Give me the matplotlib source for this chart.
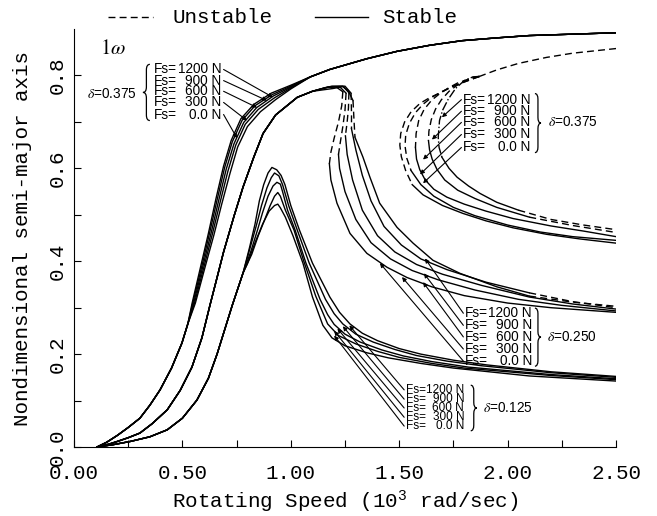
import matplotlib.pyplot as plt
from matplotlib.path import Path
from matplotlib.patches import PathPatch
from matplotlib.lines import Line2D

plt.rcParams['mathtext.fontset'] = 'custom'
plt.rcParams['mathtext.rm'] = 'Liberation Mono'
plt.rcParams['mathtext.it'] = 'Liberation Mono:italic'

MONO = 'Liberation Mono'
SANS = 'Liberation Sans'

# force labels, top to bottom
fs_labels = ['1200 N', '900 N', '600 N', '300 N', '0.0 N']

# ---------------- delta = 0.375 ----------------
start375_x = [0.106, 0.15, 0.20, 0.25, 0.304, 0.35, 0.397, 0.45, 0.498, 0.525]
start375_y = [0.0, 0.01, 0.025, 0.042, 0.062, 0.09, 0.123, 0.17, 0.224, 0.265]
mid375_x = [
    [0.545, 0.585, 0.62, 0.655, 0.69, 0.725, 0.77, 0.83, 0.91, 1.0],
    [0.548, 0.59, 0.625, 0.66, 0.695, 0.73, 0.775, 0.835, 0.915, 1.0],
    [0.552, 0.595, 0.632, 0.667, 0.702, 0.738, 0.783, 0.843, 0.92, 1.0],
    [0.556, 0.6, 0.638, 0.674, 0.71, 0.746, 0.79, 0.85, 0.925, 1.0],
    [0.56, 0.605, 0.645, 0.682, 0.72, 0.755, 0.8, 0.86, 0.93, 1.0]]
mid375_y = [
    [0.31, 0.39, 0.46, 0.535, 0.605, 0.66, 0.707, 0.738, 0.762, 0.779],
    [0.31, 0.39, 0.46, 0.532, 0.602, 0.657, 0.703, 0.735, 0.759, 0.777],
    [0.31, 0.39, 0.46, 0.53, 0.598, 0.653, 0.699, 0.731, 0.756, 0.775],
    [0.31, 0.389, 0.458, 0.527, 0.594, 0.65, 0.695, 0.727, 0.752, 0.773],
    [0.31, 0.388, 0.456, 0.524, 0.59, 0.646, 0.69, 0.722, 0.748, 0.771]]
top375_x = [1.09, 1.18, 1.35, 1.49, 1.64, 1.79, 1.95, 2.10, 2.3, 2.5]
top375_y = [0.797, 0.813, 0.836, 0.852, 0.865, 0.875, 0.881, 0.886, 0.889, 0.892]

# unstable branch shared at the right, then each loop round its nose
unst375_x = [2.5, 2.3, 2.18, 2.05, 1.95, 1.87]
unst375_y = [0.858, 0.848, 0.839, 0.826, 0.812, 0.798]
nose375_x = [
    [1.87, 1.84, 1.80, 1.76, 1.725, 1.70, 1.686, 1.68, 1.684, 1.697],
    [1.87, 1.84, 1.81, 1.77, 1.73, 1.695, 1.668, 1.648, 1.637, 1.635],
    [1.87, 1.82, 1.77, 1.73, 1.69, 1.65, 1.615, 1.59, 1.578, 1.575],
    [1.87, 1.80, 1.75, 1.70, 1.65, 1.61, 1.575, 1.547, 1.53, 1.527, 1.535, 1.555],
    [1.87, 1.80, 1.74, 1.69, 1.64, 1.596, 1.555, 1.525, 1.507, 1.503, 1.51, 1.53, 1.56]]
nose375_y = [
    [0.798, 0.797, 0.789, 0.772, 0.748, 0.725, 0.703, 0.667, 0.645, 0.624],
    [0.798, 0.796, 0.79, 0.78, 0.766, 0.748, 0.728, 0.705, 0.68, 0.66],
    [0.798, 0.792, 0.784, 0.774, 0.762, 0.747, 0.727, 0.703, 0.675, 0.645],
    [0.798, 0.786, 0.777, 0.766, 0.753, 0.738, 0.72, 0.697, 0.672, 0.648, 0.622, 0.595],
    [0.798, 0.786, 0.775, 0.763, 0.752, 0.74, 0.722, 0.70, 0.675, 0.65, 0.625, 0.595, 0.565]]
low375_x = [
    [1.697, 1.73, 1.767, 1.82, 1.873, 1.95, 2.05],
    [1.635, 1.64, 1.652, 1.674, 1.71, 1.77, 1.85, 1.95, 2.10],
    [1.575, 1.58, 1.595, 1.62, 1.66, 1.72, 1.8, 1.9, 2.025, 2.2, 2.35, 2.5],
    [1.555, 1.6, 1.66, 1.75, 1.85, 2.0, 2.15, 2.3, 2.5],
    [1.56, 1.61, 1.70, 1.794, 1.9, 2.025, 2.18, 2.334, 2.5]]
low375_y = [
    [0.624, 0.60, 0.581, 0.562, 0.546, 0.527, 0.51],
    [0.66, 0.64, 0.62, 0.598, 0.575, 0.553, 0.535, 0.516, 0.495],
    [0.645, 0.62, 0.597, 0.575, 0.555, 0.538, 0.523, 0.508, 0.492, 0.476, 0.465, 0.453],
    [0.595, 0.565, 0.54, 0.516, 0.498, 0.478, 0.463, 0.453, 0.445],
    [0.565, 0.543, 0.52, 0.503, 0.487, 0.472, 0.458, 0.448, 0.439]]
end375_x = [[2.05, 2.2, 2.35, 2.5], [2.10, 2.3, 2.5], [], [], []]
end375_y = [[0.51, 0.49, 0.478, 0.468], [0.495, 0.477, 0.462], [], [], []]

# ---------------- delta = 0.250 ----------------
start25_x = [0.106, 0.16, 0.20, 0.25, 0.304, 0.36, 0.43, 0.49, 0.544, 0.59,
             0.627, 0.66, 0.69, 0.74, 0.78, 0.83, 0.872, 0.93, 1.03, 1.10]
start25_y = [0.0, 0.006, 0.012, 0.02, 0.03, 0.05, 0.08, 0.122, 0.172, 0.235,
             0.305, 0.365, 0.42, 0.50, 0.56, 0.625, 0.675, 0.715, 0.753, 0.766]
up25_x = [[1.10, 1.195, 1.24, 1.264, 1.287],
          [1.10, 1.19, 1.25, 1.278],
          [1.10, 1.18, 1.24, 1.268],
          [1.10, 1.17, 1.225, 1.255],
          [1.10, 1.16, 1.21, 1.24]]
up25_y = [[0.766, 0.772, 0.776, 0.768, 0.746],
          [0.766, 0.777, 0.777, 0.762],
          [0.766, 0.776, 0.777, 0.763],
          [0.766, 0.775, 0.776, 0.762],
          [0.766, 0.774, 0.775, 0.765]]
fold25_x = [[1.287, 1.292, 1.296],
            [1.278, 1.28, 1.28],
            [1.268, 1.266, 1.26, 1.252],
            [1.255, 1.25, 1.24, 1.228, 1.22],
            [1.24, 1.235, 1.22, 1.20, 1.185, 1.178]]
fold25_y = [[0.746, 0.70, 0.667],
            [0.762, 0.72, 0.685],
            [0.763, 0.73, 0.70, 0.67],
            [0.762, 0.725, 0.69, 0.655, 0.63],
            [0.765, 0.735, 0.70, 0.665, 0.635, 0.61]]
low25_x = [
    [1.296, 1.333, 1.365, 1.41, 1.49, 1.564, 1.656, 1.78, 1.95, 2.1],
    [1.28, 1.30, 1.33, 1.37, 1.43, 1.51, 1.60, 1.72, 1.9, 2.1],
    [1.252, 1.26, 1.285, 1.33, 1.40, 1.48, 1.58, 1.70, 1.88, 2.1, 2.3, 2.5],
    [1.22, 1.225, 1.25, 1.30, 1.37, 1.46, 1.56, 1.68, 1.85, 2.05, 2.25, 2.5],
    [1.178, 1.185, 1.213, 1.273, 1.351, 1.444, 1.536, 1.65, 1.8, 2.0, 2.2, 2.5]]
low25_y = [
    [0.667, 0.624, 0.581, 0.525, 0.473, 0.439, 0.402, 0.374, 0.345, 0.325],
    [0.685, 0.64, 0.585, 0.53, 0.475, 0.435, 0.405, 0.382, 0.355, 0.332],
    [0.67, 0.63, 0.575, 0.51, 0.455, 0.42, 0.393, 0.372, 0.348, 0.323, 0.308, 0.297],
    [0.63, 0.6, 0.55, 0.49, 0.44, 0.405, 0.38, 0.36, 0.338, 0.318, 0.305, 0.293],
    [0.61, 0.575, 0.525, 0.46, 0.417, 0.387, 0.365, 0.345, 0.326, 0.31, 0.30, 0.29]]
end25_x = [[2.1, 2.3, 2.5], [2.1, 2.3, 2.5], [], [], []]
end25_y = [[0.325, 0.312, 0.303], [0.332, 0.313, 0.300], [], [], []]

# ---------------- delta = 0.125 ----------------
start125_x = [0.106, 0.18, 0.26, 0.35, 0.43, 0.50, 0.567, 0.62, 0.66, 0.70, 0.73, 0.78]
start125_y = [0.0, 0.005, 0.012, 0.022, 0.037, 0.062, 0.101, 0.148, 0.2, 0.26, 0.305, 0.375]
rest125_x = [
    [0.81, 0.835, 0.855, 0.875, 0.895, 0.913, 0.935, 0.955, 0.973, 1.0, 1.04,
     1.10, 1.18, 1.225, 1.273, 1.33, 1.4, 1.5, 1.6, 1.75, 1.9, 2.2, 2.5],
    [0.81, 0.84, 0.865, 0.89, 0.91, 0.925, 0.945, 0.962, 0.99, 1.03, 1.085,
     1.16, 1.2, 1.24, 1.3, 1.38, 1.48, 1.58, 1.72, 1.88, 2.2, 2.5],
    [0.815, 0.845, 0.87, 0.895, 0.918, 0.936, 0.952, 0.962, 0.985, 1.02, 1.07,
     1.135, 1.17, 1.2, 1.25, 1.32, 1.42, 1.52, 1.65, 1.82, 2.2, 2.5],
    [0.82, 0.85, 0.88, 0.905, 0.925, 0.94, 0.952, 0.975, 1.015, 1.06, 1.115,
     1.17, 1.22, 1.3, 1.4, 1.5, 1.65, 1.8, 2.2, 2.5],
    [0.80, 0.835, 0.87, 0.90, 0.925, 0.94, 0.952, 0.975, 1.01, 1.056, 1.10,
     1.148, 1.19, 1.25, 1.35, 1.45, 1.6, 1.75, 2.1, 2.5]]
rest125_y = [
    [0.43, 0.48, 0.53, 0.565, 0.59, 0.602, 0.597, 0.585, 0.565, 0.52, 0.467,
     0.396, 0.323, 0.29, 0.265, 0.245, 0.229, 0.212, 0.2, 0.187, 0.177, 0.162, 0.152],
    [0.425, 0.475, 0.52, 0.558, 0.58, 0.59, 0.584, 0.565, 0.52, 0.467, 0.396,
     0.318, 0.287, 0.265, 0.243, 0.226, 0.21, 0.197, 0.185, 0.175, 0.16, 0.15],
    [0.42, 0.465, 0.505, 0.54, 0.562, 0.57, 0.566, 0.55, 0.51, 0.467, 0.396,
     0.318, 0.285, 0.264, 0.243, 0.226, 0.209, 0.196, 0.184, 0.172, 0.156, 0.147],
    [0.415, 0.455, 0.49, 0.52, 0.54, 0.548, 0.54, 0.51, 0.467, 0.40, 0.325,
     0.265, 0.24, 0.222, 0.206, 0.193, 0.18, 0.17, 0.154, 0.145],
    [0.395, 0.44, 0.48, 0.508, 0.52, 0.523, 0.515, 0.495, 0.455, 0.396, 0.323,
     0.262, 0.235, 0.218, 0.203, 0.192, 0.18, 0.17, 0.153, 0.142]]

# label blocks: rows and arrow tips
rows375_left = [0.813, 0.789, 0.766, 0.742, 0.716]
tips375_left = [(0.918, 0.753), (0.89, 0.746), (0.844, 0.731), (0.798, 0.703), (0.752, 0.665)]
rows375_right = [0.748, 0.723, 0.699, 0.673, 0.645]
tips375_right = [(1.697, 0.71), (1.651, 0.662), (1.61, 0.619), (1.596, 0.587), (1.61, 0.568)]
rows25 = [0.288, 0.262, 0.237, 0.211, 0.185]
tips25 = [(1.619, 0.406), (1.614, 0.374), (1.61, 0.355), (1.513, 0.366), (1.411, 0.396)]
rows125 = [0.123, 0.103, 0.084, 0.064, 0.045]
tips125 = [(1.27, 0.262), (1.24, 0.26), (1.215, 0.255), (1.2, 0.25), (1.2, 0.24)]

LW = 1.0
DASH = (0, (5, 3))
K = 'black'

fig = plt.figure(figsize=(6.57, 5.16), dpi=100)
ax = fig.add_axes([0.1126, 0.1337, 0.825, 0.810])

# delta = 0.375
for i in range(5):
    ax.plot(start375_x + mid375_x[i] + top375_x, start375_y + mid375_y[i] + top375_y,
            color=K, lw=LW)
ax.plot(unst375_x, unst375_y, color=K, lw=LW, ls=DASH)
for i in range(5):
    style = '-.' if i == 0 else DASH
    ax.plot(nose375_x[i], nose375_y[i], color=K, lw=LW, ls=style)
    ax.plot(low375_x[i], low375_y[i], color=K, lw=LW)
    if end375_x[i]:
        ax.plot(end375_x[i], end375_y[i], color=K, lw=LW, ls=DASH)

# delta = 0.250
for i in range(5):
    ax.plot(start25_x + up25_x[i], start25_y + up25_y[i], color=K, lw=LW)
    ax.plot(fold25_x[i], fold25_y[i], color=K, lw=LW, ls=DASH)
    ax.plot(low25_x[i], low25_y[i], color=K, lw=LW)
    if end25_x[i]:
        ax.plot(end25_x[i], end25_y[i], color=K, lw=LW, ls=DASH)

# delta = 0.125
for i in range(5):
    ax.plot(start125_x + rest125_x[i], start125_y + rest125_y[i], color=K, lw=LW)


def brace(x_tip, x_end, y0, y1):
    """Curly brace between y0 and y1; the point sits at x_tip, the ends at x_end."""
    xs = (x_tip + x_end) / 2
    ym = (y0 + y1) / 2
    r = 0.012
    verts = [(x_end, y1), (xs, y1), (xs, y1 - r),
             (xs, ym + r),
             (xs, ym), (x_tip, ym),
             (xs, ym), (xs, ym - r),
             (xs, y0 + r),
             (xs, y0), (x_end, y0)]
    codes = [Path.MOVETO, Path.CURVE3, Path.CURVE3,
             Path.LINETO,
             Path.CURVE3, Path.CURVE3,
             Path.CURVE3, Path.CURVE3,
             Path.LINETO,
             Path.CURVE3, Path.CURVE3]
    ax.add_patch(PathPatch(Path(verts, codes), fill=False, lw=0.9, color=K))


def fs_block(x_left, x_right, rows, tips, x_start, size=9.8):
    for lab, y, tip in zip(fs_labels, rows, tips):
        ax.text(x_left, y, 'Fs=', family=SANS, fontsize=size, ha='left', va='center')
        ax.text(x_right, y, lab, family=SANS, fontsize=size, ha='right', va='center')
        ax.annotate('', xy=tip, xytext=(x_start, y),
                    arrowprops=dict(arrowstyle='-|>', color=K, lw=0.8,
                                    mutation_scale=6, shrinkA=0, shrinkB=0))


fs_block(0.369, 0.679, rows375_left, tips375_left, 0.69)
brace(0.318, 0.35, 0.703, 0.824)
ax.text(0.29, 0.761, r'$\delta$=0.375', family=SANS, fontsize=9.8,
        math_fontfamily='stix', ha='right', va='center')

fs_block(1.794, 2.104, rows375_right, tips375_right, 1.787)
brace(2.154, 2.126, 0.634, 0.761)
ax.text(2.186, 0.699, r'$\delta$=0.375', family=SANS, fontsize=9.8,
        math_fontfamily='stix', ha='left', va='center')

fs_block(1.803, 2.113, rows25, tips25, 1.796)
brace(2.154, 2.126, 0.174, 0.299)
ax.text(2.18, 0.237, r'$\delta$=0.250', family=SANS, fontsize=9.8,
        math_fontfamily='stix', ha='left', va='center')

fs_block(1.53, 1.80, rows125, tips125, 1.523, size=8.5)
brace(1.858, 1.83, 0.035, 0.133)
ax.text(1.885, 0.084, r'$\delta$=0.125', family=SANS, fontsize=9.8,
        math_fontfamily='stix', ha='left', va='center')

ax.text(0.18, 0.86, r'$1\omega$', fontsize=15, math_fontfamily='stix',
        ha='center', va='center')

# axes styling
ax.set_xlim(0, 2.5)
ax.set_ylim(0, 0.9)
ax.spines['top'].set_visible(False)
ax.spines['right'].set_visible(False)
ax.set_xticks([0, 0.5, 1.0, 1.5, 2.0, 2.5])
ax.set_xticks([0.25, 0.75, 1.25, 1.75, 2.25], minor=True)
ax.set_yticks([0.0, 0.2, 0.4, 0.6, 0.8])
ax.set_yticks([0.1, 0.3, 0.5, 0.7], minor=True)
ax.set_xticklabels(['%.2f' % v for v in [0, 0.5, 1.0, 1.5, 2.0, 2.5]],
                   family=MONO, fontsize=15)
ax.set_yticklabels(['%.1f' % v for v in [0.0, 0.2, 0.4, 0.6, 0.8]],
                   family=MONO, fontsize=15, rotation=90, va='center')
ax.tick_params(which='both', direction='in', length=5, width=0.8)
ax.tick_params(axis='x', pad=12)
ax.tick_params(axis='y', pad=5)

ax.set_xlabel(r'Rotating Speed (10$^3$ rad/sec)', family=MONO, fontsize=15)
ax.set_ylabel('Nondimensional semi-major axis', family=MONO, fontsize=15)
ax.xaxis.set_label_coords(0.5, -0.10)
ax.yaxis.set_label_coords(-0.078, 0.5)

# key above the plot
ky = 1 - 17 / 516
fig.add_artist(Line2D([108 / 657, 153 / 657], [ky, ky], color=K, lw=LW, ls=DASH))
fig.text(172 / 657, ky, 'Unstable', family=MONO, fontsize=15, va='center')
fig.add_artist(Line2D([315 / 657, 368 / 657], [ky, ky], color=K, lw=LW))
fig.text(382 / 657, ky, 'Stable', family=MONO, fontsize=15, va='center')

fig.savefig('out.png', dpi=100)
